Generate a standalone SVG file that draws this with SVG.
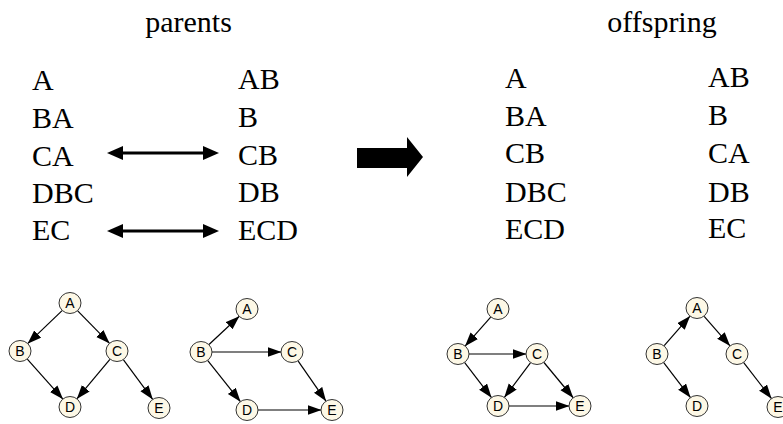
<svg xmlns="http://www.w3.org/2000/svg" width="783" height="424" viewBox="0 0 783 424">
<style>
.t{font-family:"Liberation Serif","Times New Roman",serif;font-size:30px;fill:#000}
.n ellipse{fill:#fdf8e6;stroke:#333;stroke-width:1}
.n text{font-family:"Liberation Sans",Arial,sans-serif;font-size:14px;fill:#000;text-anchor:middle}
.e line{stroke:#000;stroke-width:1.2}
</style>
<defs>
<marker id="ah" markerUnits="userSpaceOnUse" markerWidth="14" markerHeight="11" refX="13.5" refY="5" orient="auto">
<path d="M0,0 L14,5 L0,10 z" fill="#000"/>
</marker>
</defs>
<rect width="783" height="424" fill="#fff"/>
<g id="titles">
<text class="t" x="188.5" y="32" text-anchor="middle">parents</text>
<text class="t" x="662" y="32" text-anchor="middle">offspring</text>
</g>
<g id="parent1">
<text class="t" x="32" y="90">A</text>
<text class="t" x="32" y="128">BA</text>
<text class="t" x="32" y="166">CA</text>
<text class="t" x="32" y="203">DBC</text>
<text class="t" x="32" y="240">EC</text>
</g>
<g id="parent2">
<text class="t" x="238" y="89">AB</text>
<text class="t" x="238" y="127">B</text>
<text class="t" x="238" y="165">CB</text>
<text class="t" x="238" y="202">DB</text>
<text class="t" x="238" y="240">ECD</text>
</g>
<g id="offspring1">
<text class="t" x="505" y="88">A</text>
<text class="t" x="505" y="126">BA</text>
<text class="t" x="505" y="163">CB</text>
<text class="t" x="505" y="202">DBC</text>
<text class="t" x="505" y="239">ECD</text>
</g>
<g id="offspring2">
<text class="t" x="708" y="87">AB</text>
<text class="t" x="708" y="125">B</text>
<text class="t" x="708" y="163">CA</text>
<text class="t" x="708" y="202">DB</text>
<text class="t" x="708" y="238">EC</text>
</g>
<g id="swap-arrows">
<line x1="120" y1="153" x2="206" y2="153" stroke="#000" stroke-width="3"/>
<polygon points="107,153 123,146 123,160" fill="#000"/>
<polygon points="219,153 203,146 203,160" fill="#000"/>
<line x1="120" y1="231" x2="206" y2="231" stroke="#000" stroke-width="3"/>
<polygon points="107,231 123,224 123,238" fill="#000"/>
<polygon points="219,231 203,224 203,238" fill="#000"/>
</g>
<g id="big-arrow">
<polygon points="357,148 407,148 407,137 423,157 407,177 407,168 357,168" fill="#000"/>
</g>
<g id="connectors" class="e">
<line x1="62.1" y1="310.6" x2="27.9" y2="343.4" marker-end="url(#ah)"/>
<line x1="77.7" y1="310.9" x2="109.3" y2="343.1" marker-end="url(#ah)"/>
<line x1="27.3" y1="359.2" x2="62.7" y2="398.8" marker-end="url(#ah)"/>
<line x1="109.9" y1="359.4" x2="77.1" y2="398.6" marker-end="url(#ah)"/>
<line x1="123.5" y1="359.9" x2="152.5" y2="399.1" marker-end="url(#ah)"/>
<line x1="209" y1="344.5" x2="239" y2="316.5" marker-end="url(#ah)"/>
<line x1="212" y1="352" x2="281" y2="352" marker-end="url(#ah)"/>
<line x1="207.8" y1="360.6" x2="240.2" y2="401.4" marker-end="url(#ah)"/>
<line x1="298.2" y1="361.1" x2="325.8" y2="400.9" marker-end="url(#ah)"/>
<line x1="258" y1="410" x2="321" y2="410" marker-end="url(#ah)"/>
<line x1="490.7" y1="317.2" x2="465.3" y2="345.8" marker-end="url(#ah)"/>
<line x1="469" y1="354" x2="526" y2="354" marker-end="url(#ah)"/>
<line x1="464.7" y1="362.7" x2="491.3" y2="397.3" marker-end="url(#ah)"/>
<line x1="530.4" y1="362.8" x2="504.6" y2="397.2" marker-end="url(#ah)"/>
<line x1="544" y1="362.5" x2="573" y2="397.5" marker-end="url(#ah)"/>
<line x1="509" y1="406" x2="569" y2="406" marker-end="url(#ah)"/>
<line x1="664.2" y1="345.7" x2="689.8" y2="316.3" marker-end="url(#ah)"/>
<line x1="704.2" y1="316.3" x2="729.8" y2="345.7" marker-end="url(#ah)"/>
<line x1="663.7" y1="362.7" x2="690.3" y2="397.3" marker-end="url(#ah)"/>
<line x1="743.7" y1="362.7" x2="771.3" y2="398.3" marker-end="url(#ah)"/>
</g>
<g id="g1-A" class="n"><ellipse cx="70" cy="303" rx="11" ry="10.5"/><text x="70" y="308">A</text></g>
<g id="g1-B" class="n"><ellipse cx="20" cy="351" rx="11" ry="10.5"/><text x="20" y="356">B</text></g>
<g id="g1-C" class="n"><ellipse cx="117" cy="351" rx="11" ry="10.5"/><text x="117" y="356">C</text></g>
<g id="g1-D" class="n"><ellipse cx="70" cy="407" rx="11" ry="10.5"/><text x="70" y="412">D</text></g>
<g id="g1-E" class="n"><ellipse cx="159" cy="408" rx="11" ry="10.5"/><text x="159" y="413">E</text></g>
<g id="g2-A" class="n"><ellipse cx="247" cy="309" rx="11" ry="10.5"/><text x="247" y="314">A</text></g>
<g id="g2-B" class="n"><ellipse cx="201" cy="352" rx="11" ry="10.5"/><text x="201" y="357">B</text></g>
<g id="g2-C" class="n"><ellipse cx="292" cy="352" rx="11" ry="10.5"/><text x="292" y="357">C</text></g>
<g id="g2-D" class="n"><ellipse cx="247" cy="410" rx="11" ry="10.5"/><text x="247" y="415">D</text></g>
<g id="g2-E" class="n"><ellipse cx="332" cy="410" rx="11" ry="10.5"/><text x="332" y="415">E</text></g>
<g id="g3-A" class="n"><ellipse cx="498" cy="309" rx="11" ry="10.5"/><text x="498" y="314">A</text></g>
<g id="g3-B" class="n"><ellipse cx="458" cy="354" rx="11" ry="10.5"/><text x="458" y="359">B</text></g>
<g id="g3-C" class="n"><ellipse cx="537" cy="354" rx="11" ry="10.5"/><text x="537" y="359">C</text></g>
<g id="g3-D" class="n"><ellipse cx="498" cy="406" rx="11" ry="10.5"/><text x="498" y="411">D</text></g>
<g id="g3-E" class="n"><ellipse cx="580" cy="406" rx="11" ry="10.5"/><text x="580" y="411">E</text></g>
<g id="g4-A" class="n"><ellipse cx="697" cy="308" rx="11" ry="10.5"/><text x="697" y="313">A</text></g>
<g id="g4-B" class="n"><ellipse cx="657" cy="354" rx="11" ry="10.5"/><text x="657" y="359">B</text></g>
<g id="g4-C" class="n"><ellipse cx="737" cy="354" rx="11" ry="10.5"/><text x="737" y="359">C</text></g>
<g id="g4-D" class="n"><ellipse cx="697" cy="406" rx="11" ry="10.5"/><text x="697" y="411">D</text></g>
<g id="g4-E" class="n"><ellipse cx="778" cy="407" rx="11" ry="10.5"/><text x="778" y="412">E</text></g>
</svg>
